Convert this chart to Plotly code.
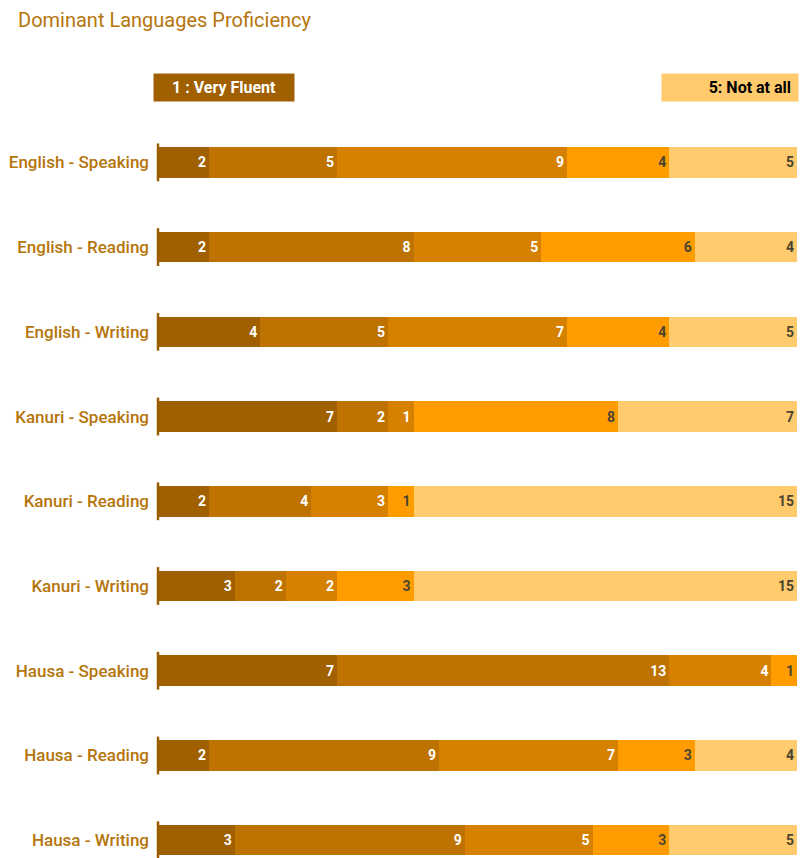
import plotly.graph_objects as go

categories = ["English - Speaking", "English - Reading", "English - Writing",
              "Kanuri - Speaking", "Kanuri - Reading", "Kanuri - Writing",
              "Hausa - Speaking", "Hausa - Reading", "Hausa - Writing"]
levels = ["1 : Very Fluent", "2", "3", "4", "5: Not at all"]
level1 = [2, 2, 4, 7, 2, 3, 7, 2, 3]
level2 = [5, 8, 5, 2, 4, 2, 13, 9, 9]
level3 = [9, 5, 7, 1, 3, 2, 4, 7, 5]
level4 = [4, 6, 4, 8, 1, 3, 1, 3, 3]
level5 = [5, 4, 5, 7, 15, 15, 0, 4, 5]
series = [level1, level2, level3, level4, level5]

colors = ["#A06000", "#BE7200", "#D68000", "#FF9D00", "#FFCB6C"]
text_colors = ["#FFFFFF", "#FFFFFF", "#FFFFFF", "#4A4430", "#4A4430"]
label_color = "#B5750C"

fig = go.Figure()
for name, vals, col, tcol in zip(levels, series, colors, text_colors):
    fig.add_trace(go.Bar(
        y=categories, x=vals, name=name, orientation="h",
        marker=dict(color=col, line=dict(width=0)),
        text=[str(v) if v else "" for v in vals],
        textposition="inside", insidetextanchor="end", textangle=0,
        textfont=dict(family="Roboto", size=14, color=tcol, weight="bold"),
        width=0.36, showlegend=False, hoverinfo="skip",
    ))

# short axis ticks at the start of each bar
fig.add_trace(go.Scatter(
    y=categories, x=[0] * len(categories), mode="markers",
    marker=dict(symbol="line-ns", size=27, line=dict(color="#9A5C00", width=2.5)),
    cliponaxis=False, showlegend=False, hoverinfo="skip",
))

fig.update_layout(
    width=801, height=858,
    barmode="stack",
    plot_bgcolor="white", paper_bgcolor="white",
    margin=dict(l=158, r=4, t=120, b=0),
    title=dict(text="Dominant Languages Proficiency", x=18 / 801, xanchor="left",
               y=1 - 20 / 858, yanchor="middle",
               font=dict(family="Roboto", size=20, color=label_color)),
    xaxis=dict(range=[0, 25], showgrid=False, zeroline=False, showticklabels=False,
               showline=False),
    yaxis=dict(categoryorder="array", categoryarray=categories,
               range=[8.21, -0.5], showgrid=False, zeroline=False, showline=False,
               ticks="", ticklabelstandoff=8,
               tickfont=dict(family="Roboto", size=17, color=label_color, weight=500)),
    annotations=[
        dict(text="<b>1 : Very Fluent</b>", xref="paper", yref="paper",
             x=-5 / 639, xanchor="left", y=1 + (120 - 87.5) / 738, yanchor="middle",
             showarrow=False, bgcolor=colors[0], width=140, height=27, borderpad=0,
             align="center", font=dict(family="Roboto", size=16, color="white")),
        dict(text="<b>5: Not at all</b>&nbsp;", xref="paper", yref="paper",
             x=(661 - 158) / 639, xanchor="left", y=1 + (120 - 87.5) / 738, yanchor="middle",
             showarrow=False, bgcolor=colors[4], width=130, height=21, borderpad=3,
             align="right", font=dict(family="Roboto", size=16, color="black")),
    ],
)

fig.write_html("out.html", config={"displayModeBar": False},
               post_script="document.body.style.margin='0';document.body.style.padding='0';")
